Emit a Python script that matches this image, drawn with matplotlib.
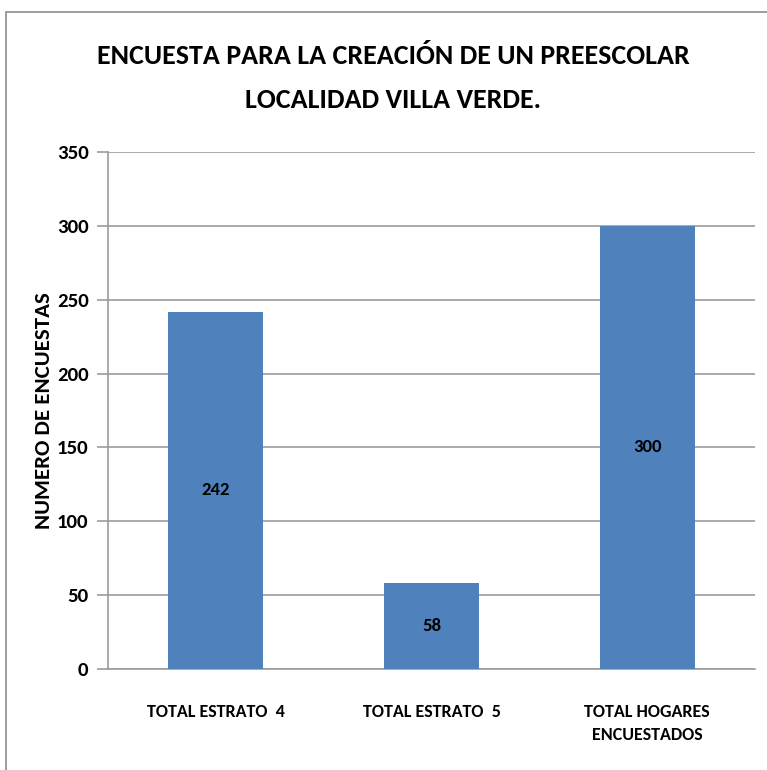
import matplotlib.pyplot as plt
from matplotlib.patches import Rectangle

categories = ["TOTAL ESTRATO  4", "TOTAL ESTRATO  5", "TOTAL HOGARES\nENCUESTADOS"]
values = [242, 58, 300]
yticks = [0, 50, 100, 150, 200, 250, 300, 350]

title = "ENCUESTA PARA LA CREACIÓN DE UN PREESCOLAR\nLOCALIDAD VILLA VERDE."
ylabel = "NUMERO DE ENCUESTAS"

bar_color = "#4F81BD"
grid_color = "#9C9C9C"
# Carlito is metric compatible with Calibri
font = ["Carlito", "Liberation Sans Narrow", "Roboto Condensed", "DejaVu Sans"]

plt.rcParams["font.family"] = font
plt.rcParams["font.weight"] = "bold"

fig = plt.figure(figsize=(7.67, 7.70), dpi=100)
# outer chart frame
fig.patches.append(Rectangle((6 / 767, -0.01), 1.0, 1 - 12 / 770 + 0.01,
                             transform=fig.transFigure, fill=False,
                             edgecolor="#8C8C8C", linewidth=1.2))

ax = fig.add_axes([108 / 767, 1 - 669 / 770, 647 / 767, 517 / 770])
x = range(len(categories))
bars = ax.bar(x, values, width=0.44, color=bar_color, zorder=3)

for b, v in zip(bars, values):
    ax.text(b.get_x() + b.get_width() / 2, v / 2, str(v), ha="center",
            va="center", fontsize=13.5, fontweight="bold", zorder=4)

ax.set_xlim(-0.5, len(categories) - 0.5)
ax.set_ylim(0, 350)
ax.set_yticks(yticks)
ax.set_yticklabels([str(t) for t in yticks], fontsize=15, fontweight="bold")
ax.set_xticks(list(x))
ax.set_xticklabels(categories, fontsize=13, fontweight="bold", linespacing=1.55)
ax.tick_params(axis="x", length=0, pad=25)
ax.tick_params(axis="y", length=8, color=grid_color, width=1.2, pad=6)
ax.grid(axis="y", color=grid_color, linewidth=1.2, zorder=0)

for side in ["top", "right"]:
    ax.spines[side].set_visible(False)
for side in ["left", "bottom"]:
    ax.spines[side].set_color(grid_color)
    ax.spines[side].set_linewidth(1.2)

ax.set_ylabel(ylabel, fontsize=16.5, fontweight="bold", labelpad=2)
fig.text(393 / 767, 1 - 78 / 770, title, ha="center", va="center", fontsize=20.2,
         fontweight="bold", linespacing=2.0)

fig.savefig("out.png", dpi=100)
